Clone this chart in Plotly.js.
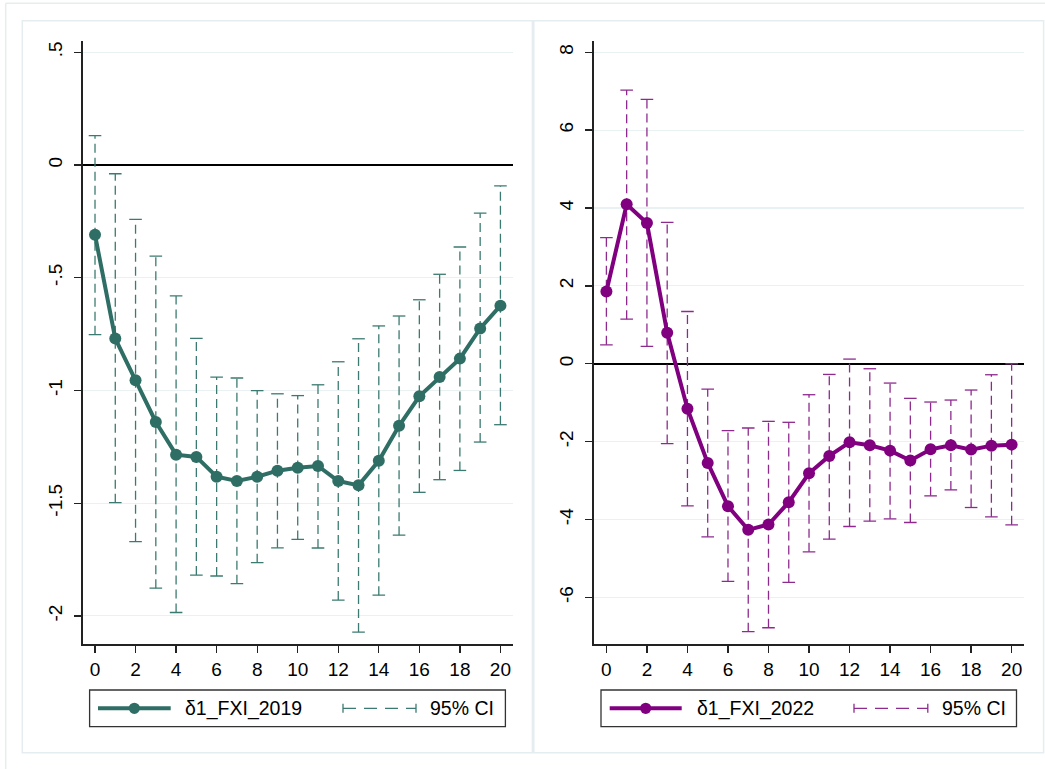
<!DOCTYPE html>
<html>
<head>
<meta charset="utf-8">
<script src="https://cdn.plot.ly/plotly-3.0.1.min.js"></script>
<style>
  html, body { margin: 0; padding: 0; background: #ffffff; }
  #chart { width: 1045px; height: 769px; }
</style>
</head>
<body>
<div id="chart"></div>
<script>
// Horizon (periods after shock)
const steps = [0, 1, 2, 3, 4, 5, 6, 7, 8, 9, 10, 11, 12, 13, 14, 15, 16, 17, 18, 19, 20];

// δ1_FXI_2019: point estimates and 95% confidence bounds
const est2019 = [-0.31, -0.77, -0.955, -1.14, -1.285, -1.295, -1.383, -1.402, -1.383, -1.356, -1.343,
                 -1.335, -1.402, -1.421, -1.312, -1.157, -1.026, -0.941, -0.859, -0.725, -0.624];
const lo2019  = [-0.753, -1.498, -1.671, -1.877, -1.985, -1.819, -1.823, -1.857, -1.764, -1.698, -1.661,
                 -1.699, -1.93, -2.072, -1.908, -1.642, -1.452, -1.396, -1.355, -1.229, -1.152];
const hi2019  = [0.13, -0.039, -0.241, -0.404, -0.581, -0.769, -0.941, -0.945, -1.001, -1.015, -1.023,
                 -0.975, -0.873, -0.771, -0.714, -0.67, -0.598, -0.485, -0.364, -0.214, -0.093];

// δ1_FXI_2022: point estimates and 95% confidence bounds
const est2022 = [1.854, 4.095, 3.615, 0.795, -1.154, -2.547, -3.658, -4.265, -4.128, -3.556, -2.812,
                 -2.368, -2.017, -2.094, -2.231, -2.487, -2.197, -2.094, -2.205, -2.103, -2.077];
const lo2022  = [0.487, 1.146, 0.444, -2.05, -3.65, -4.445, -5.59, -6.88, -6.78, -5.615, -4.83,
                 -4.504, -4.18, -4.043, -3.983, -4.077, -3.393, -3.239, -3.692, -3.932, -4.137];
const hi2022  = [3.24, 7.03, 6.79, 3.63, 1.342, -0.65, -1.718, -1.65, -1.479, -1.504, -0.795,
                 -0.274, 0.12, -0.128, -0.496, -0.889, -0.983, -0.932, -0.675, -0.282, 0.0];

// Tick labels
const xTickVals = [0, 2, 4, 6, 8, 10, 12, 14, 16, 18, 20];
const xTickText = ['0', '2', '4', '6', '8', '10', '12', '14', '16', '18', '20'];
const yTickVals2019 = [0.5, 0, -0.5, -1, -1.5, -2];
const yTickText2019 = ['.5', '0', '-.5', '-1', '-1.5', '-2'];
const yTickVals2022 = [8, 6, 4, 2, 0, -2, -4, -6];
const yTickText2022 = ['8', '6', '4', '2', '0', '-2', '-4', '-6'];

// Series names
const name2019 = 'δ1_FXI_2019';
const name2022 = 'δ1_FXI_2022';
const ciName = '95% CI';

const W = 1045, H = 769;
const px = v => v / W;          // pixel -> paper x
const py = v => 1 - v / H;      // pixel -> paper y

const TEAL = '#2e6e64', TEAL_CI = '#3b7a70';
const PURP = '#800080', PURP_CI = '#8e2a8e';
const FRAME = '#e5edf0';
const FONT = 'Liberation Sans, Arial, sans-serif';

function panelTraces(est, lo, hi, color, ciColor, xa, ya) {
  // dashed vertical CI segments
  const sx = [], sy = [];
  steps.forEach((s, i) => { sx.push(s, s, null); sy.push(lo[i], hi[i], null); });
  return [
    { x: sx, y: sy, xaxis: xa, yaxis: ya, mode: 'lines', type: 'scatter', hoverinfo: 'skip',
      line: { color: ciColor, width: 1.3, dash: '9px,5px' }, showlegend: false },
    { x: steps.concat(steps), y: lo.concat(hi), xaxis: xa, yaxis: ya, mode: 'markers', type: 'scatter',
      marker: { symbol: 'line-ew', size: 9, line: { color: ciColor, width: 1.3 } }, showlegend: false },
    { x: steps, y: est, xaxis: xa, yaxis: ya, mode: 'lines+markers', type: 'scatter',
      line: { color: color, width: 4 }, marker: { color: color, size: 12 }, showlegend: false }
  ];
}

const data = [].concat(
  panelTraces(est2019, lo2019, hi2019, TEAL, TEAL_CI, 'x', 'y'),
  panelTraces(est2022, lo2022, hi2022, PURP, PURP_CI, 'x2', 'y2')
);

const yDomain = [py(644.3), py(40.7)];
const common = {
  showline: true, linecolor: '#222', linewidth: 1.4,
  ticks: 'outside', ticklen: 7, tickwidth: 1.3, tickcolor: '#222',
  tickfont: { family: FONT, size: 19, color: '#000' },
  tickmode: 'array', fixedrange: true
};

function xAxis(domain, range, anchor) {
  return Object.assign({}, common, {
    domain: domain, range: range, anchor: anchor,
    tickvals: xTickVals, ticktext: xTickText,
    showgrid: false, zeroline: false
  });
}
function yAxis(range, vals, text, anchor) {
  return Object.assign({}, common, {
    domain: yDomain, range: range, anchor: anchor,
    tickvals: vals, ticktext: text, tickangle: -90, ticklabelstandoff: 5,
    showgrid: true, gridcolor: '#eaf1f3', gridwidth: 1.2,
    zeroline: true, zerolinecolor: '#000', zerolinewidth: 1.6
  });
}

const shapes = [
  // outer frame edges
  { type: 'line', xref: 'paper', yref: 'paper', x0: px(5.7), x1: 1, y0: py(3.3), y1: py(3.3),
    line: { color: FRAME, width: 1.5 }, layer: 'below' },
  { type: 'line', xref: 'paper', yref: 'paper', x0: px(5.7), x1: px(5.7), y0: 0, y1: py(3.3),
    line: { color: FRAME, width: 1.5 }, layer: 'below' },
  // panel frames
  { type: 'rect', xref: 'paper', yref: 'paper', x0: px(22.3), x1: px(532.4), y0: py(752.7), y1: py(20.7),
    line: { color: FRAME, width: 1.5 }, layer: 'below' },
  { type: 'rect', xref: 'paper', yref: 'paper', x0: px(533.8), x1: px(1043.6), y0: py(752.7), y1: py(20.7),
    line: { color: FRAME, width: 1.5 }, layer: 'below' }
];
const annotations = [];

function legend(box, lineX, ciX, textX, ciTextX, color, ciColor, label) {
  const yc = py(708.3);
  shapes.push({ type: 'rect', xref: 'paper', yref: 'paper', x0: px(box[0]), x1: px(box[1]),
    y0: py(726.7), y1: py(690), line: { color: '#333', width: 1.3 }, fillcolor: '#fff' });
  shapes.push({ type: 'line', xref: 'paper', yref: 'paper', x0: px(lineX[0]), x1: px(lineX[1]),
    y0: yc, y1: yc, line: { color: color, width: 4 } });
  const mx = (lineX[0] + lineX[1]) / 2, r = 5.6;
  shapes.push({ type: 'circle', xref: 'paper', yref: 'paper', x0: px(mx - r), x1: px(mx + r),
    y0: py(708.3 + r), y1: py(708.3 - r), fillcolor: color, line: { color: color, width: 0 } });
  // CI sample: dashed line with end caps
  shapes.push({ type: 'line', xref: 'paper', yref: 'paper', x0: px(ciX[0]), x1: px(ciX[1]),
    y0: yc, y1: yc, line: { color: ciColor, width: 1.3, dash: '13px,8px' } });
  [ciX[0], ciX[1]].forEach(cx => shapes.push({ type: 'line', xref: 'paper', yref: 'paper',
    x0: px(cx), x1: px(cx), y0: py(703.8), y1: py(712.8), line: { color: ciColor, width: 1.3 } }));
  annotations.push({ xref: 'paper', yref: 'paper', x: px(textX), y: yc, xanchor: 'left', yanchor: 'middle',
    text: label, showarrow: false, font: { family: FONT, size: 19.5, color: '#000' } });
  annotations.push({ xref: 'paper', yref: 'paper', x: px(ciTextX), y: yc, xanchor: 'left', yanchor: 'middle',
    text: ciName, showarrow: false, font: { family: FONT, size: 19.5, color: '#000' } });
}
legend([89.6, 505.4], [98, 170.7], [343, 416], 183, 428, TEAL, TEAL_CI, name2019);
legend([601, 1016.5], [609.7, 681.7], [854, 927.8], 694.5, 939.5, PURP, PURP_CI, name2022);

const layout = {
  width: W, height: H,
  margin: { l: 0, r: 0, t: 0, b: 0 },
  paper_bgcolor: '#ffffff', plot_bgcolor: '#ffffff',
  showlegend: false,
  xaxis:  xAxis([px(82.5), px(513.2)], [-0.617, 20.63], 'y'),
  yaxis:  yAxis([-2.126, 0.551], yTickVals2019, yTickText2019, 'x'),
  xaxis2: xAxis([px(593.7), px(1023.8)], [-0.627, 20.6], 'y2'),
  yaxis2: yAxis([-7.205, 8.297], yTickVals2022, yTickText2022, 'x2'),
  shapes: shapes,
  annotations: annotations,
  font: { family: FONT }
};

Plotly.newPlot('chart', data, layout, { displayModeBar: false, staticPlot: true });
</script>
</body>
</html>
